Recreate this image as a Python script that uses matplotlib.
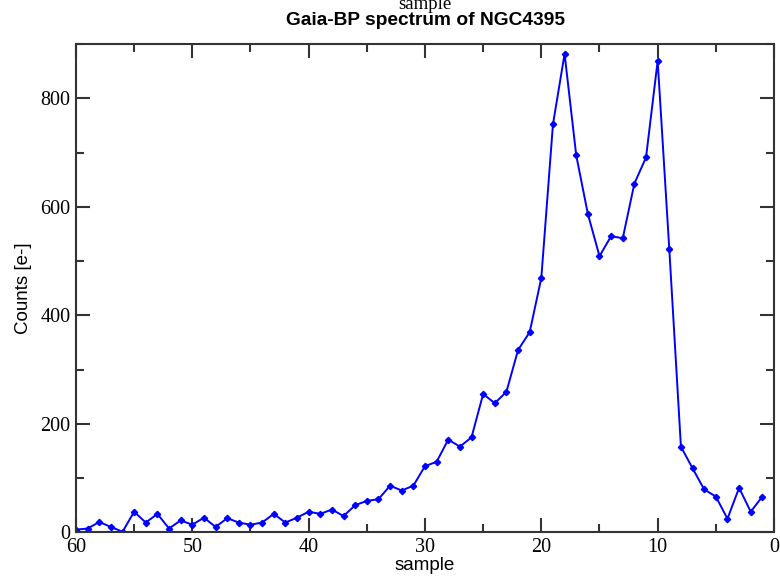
import matplotlib
matplotlib.use('Agg')
import matplotlib.pyplot as plt
from matplotlib.ticker import MultipleLocator

# BP spectrum samples (sample index, counts in e-)
sample = [60, 59, 58, 57, 56, 55, 54, 53, 52, 51, 50, 49, 48, 47, 46, 45, 44, 43, 42, 41,
          40, 39, 38, 37, 36, 35, 34, 33, 32, 31, 30, 29, 28, 27, 26, 25, 24, 23, 22, 21,
          20, 19, 18, 17, 16, 15, 14, 13, 12, 11, 10, 9, 8, 7, 6, 5, 4, 3, 2, 1]
counts = [5, 7, 19, 10, 1, 38, 18, 34, 7, 22, 14, 27, 10, 26, 18, 14, 18, 34, 18, 27,
          38, 34, 42, 30, 50, 58, 61, 86, 77, 86, 122, 130, 171, 158, 175, 255, 238, 259, 336, 369,
          469, 752, 882, 695, 587, 509, 546, 542, 643, 691, 869, 522, 158, 118, 79, 66, 25, 82, 38, 66]

serif = ['Liberation Serif', 'DejaVu Serif']
sans = ['Liberation Sans', 'DejaVu Sans']

fig = plt.figure(figsize=(7.8, 5.8), dpi=100)
ax = fig.add_axes([0.0974, 0.0822, 0.8949, 0.8418])

ax.plot(sample, counts, color='#0000ff', lw=1.4, marker='D', markersize=3.2)

ax.set_xlim(60, 0)
ax.set_ylim(0, 900)
ax.xaxis.set_major_locator(MultipleLocator(10))
ax.xaxis.set_minor_locator(MultipleLocator(5))
ax.yaxis.set_major_locator(MultipleLocator(200))
ax.yaxis.set_minor_locator(MultipleLocator(100))

ax.tick_params(which='both', direction='in', top=True, right=True, color='#333333', width=1.5)
ax.tick_params(which='major', length=10, labelsize=14.5, pad=4)
ax.tick_params(which='minor', length=5.5)
for lab in ax.get_xticklabels() + ax.get_yticklabels():
    lab.set_family(serif)
for sp in ax.spines.values():
    sp.set_linewidth(1.5)
    sp.set_color('#333333')

ax.set_xlabel('sample', family=sans, fontsize=13.5, labelpad=0)
ax.set_ylabel('Counts [e-]', family=sans, fontsize=13.5, labelpad=6)

# top axis label is clipped by the figure edge
fig.text(0.545, 0.993, 'sample', family=serif, fontsize=13.5, ha='center', va='center')
fig.text(0.545, 0.965, 'Gaia-BP spectrum of NGC4395', family=sans, fontsize=13.8,
         fontweight='bold', ha='center', va='center')

fig.savefig('out.png', dpi=100)
